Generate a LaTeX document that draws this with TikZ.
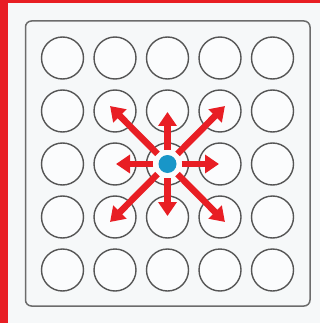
\documentclass[tikz,border=0pt]{standalone}
\usepackage{xcolor}
\definecolor{alarmred}{RGB}{232,30,36}
\definecolor{dotblue}{RGB}{24,150,200}
\definecolor{wellgray}{RGB}{85,85,85}
\definecolor{paper}{RGB}{246,248,249}
\usetikzlibrary{arrows.meta, positioning, calc}

\begin{document}
\begin{tikzpicture}[
  x=1pt, y=-1pt,
  well/.style={circle, draw=wellgray, line width=1.4pt, fill=white!60!paper, minimum size=42pt, inner sep=0pt},
  plate/.style={draw=gray!85!black, line width=1.5pt, rounded corners=6pt},
  spoke/.style={-{Triangle[length=14pt, width=18pt]}, line width=6.5pt, alarmred, shorten <=5pt},
  seed/.style={circle, fill=dotblue, minimum size=18pt, inner sep=0pt}
]
  \useasboundingbox (0,0) rectangle (320,323);
  \fill[paper] (0,0) rectangle (320,323);
  \fill[alarmred] (0,0) rectangle (320,3);
  \fill[alarmred] (0,0) rectangle (8,323);

  \draw[plate] (25.5,21) rectangle (310,306);

  \foreach \r in {1,...,5} {
    \foreach \c in {1,...,5} {
      \node[well] (w-\r-\c) at ({10+52.5*\c},{5+53*\r}) {};
    }
  }

  \node[seed] (seed) at (w-3-3) {};

  % orthogonal spokes
  \foreach \n in {w-2-3,w-3-2,w-3-4,w-4-3} {
    \draw[spoke, shorten >=1pt] (seed) -- (\n.center);
  }
  % diagonal spokes
  \foreach \n in {w-2-2,w-2-4,w-4-2,w-4-4} {
    \draw[spoke, shorten >=-7pt] (seed) -- (\n.center);
  }
\end{tikzpicture}
\end{document}
